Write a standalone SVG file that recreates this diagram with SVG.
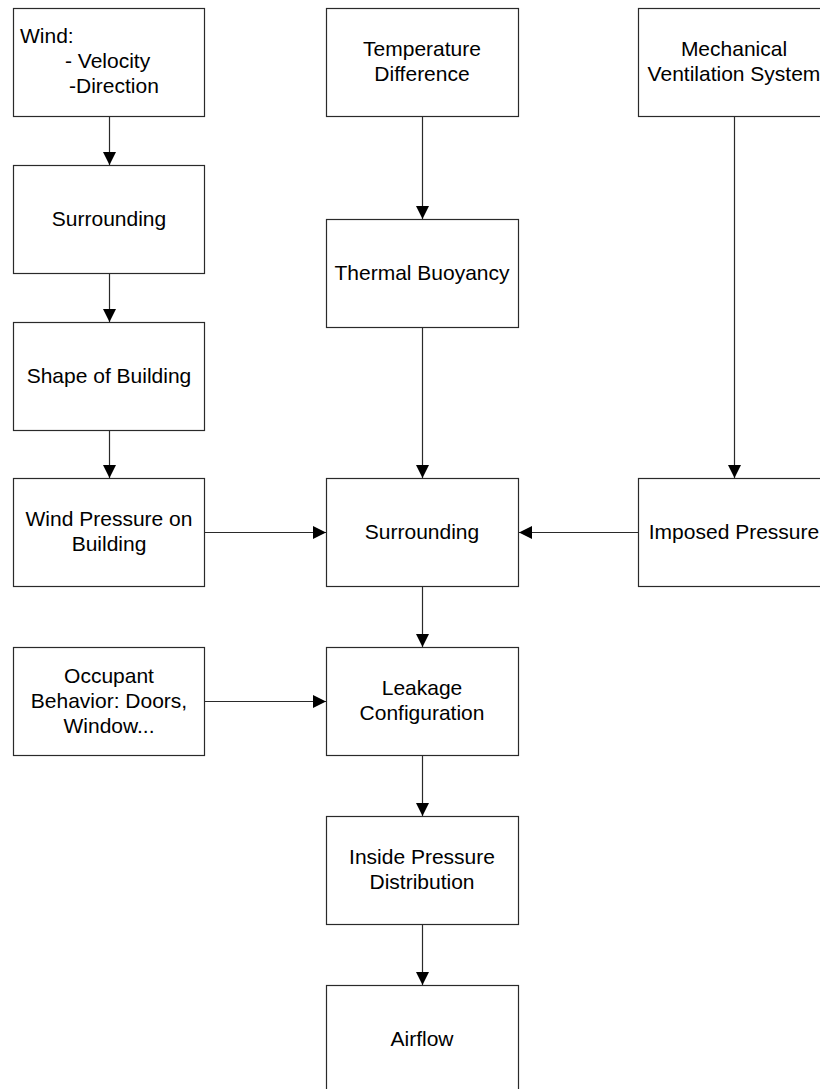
<svg xmlns="http://www.w3.org/2000/svg" width="820" height="1089" viewBox="0 0 820 1089">
  <style>
    .box { fill: #fff; stroke: #2a2a2a; stroke-width: 1.2; }
    .lbl { font-family: "Liberation Sans", Arial, sans-serif; font-size: 21px; fill: #000; text-anchor: middle; }
    .lft { text-anchor: start; }
    .edge { stroke: #2a2a2a; stroke-width: 1.2; fill: none; marker-end: url(#arrow); }
  </style>
  <defs>
    <marker id="arrow" markerUnits="userSpaceOnUse" markerWidth="14" markerHeight="14" refX="13" refY="6.5" orient="auto">
      <path d="M0,0 L13,6.5 L0,13 Z" fill="#000"/>
    </marker>
  </defs>
  <rect width="820" height="1089" fill="#fff"/>

  <!-- left column -->
  <g id="wind">
    <rect class="box" x="13.5" y="8.5" width="191" height="108"/>
    <text class="lbl lft" x="20" y="43">Wind:</text>
    <text class="lbl lft" x="65" y="68">- Velocity</text>
    <text class="lbl lft" x="69" y="93">-Direction</text>
  </g>
  <g id="surrounding-left">
    <rect class="box" x="13.5" y="165.5" width="191" height="108"/>
    <text class="lbl" x="109" y="226">Surrounding</text>
  </g>
  <g id="shape-of-building">
    <rect class="box" x="13.5" y="322.5" width="191" height="108"/>
    <text class="lbl" x="109" y="383">Shape of Building</text>
  </g>
  <g id="wind-pressure">
    <rect class="box" x="13.5" y="478.5" width="191" height="108"/>
    <text class="lbl" x="109" y="526">Wind Pressure on</text>
    <text class="lbl" x="109" y="551">Building</text>
  </g>
  <g id="occupant-behavior">
    <rect class="box" x="13.5" y="647.5" width="191" height="108"/>
    <text class="lbl" x="109" y="683">Occupant</text>
    <text class="lbl" x="109" y="708">Behavior: Doors,</text>
    <text class="lbl" x="109" y="733">Window...</text>
  </g>

  <!-- middle column -->
  <g id="temperature-difference">
    <rect class="box" x="326.5" y="8.5" width="192" height="108"/>
    <text class="lbl" x="422" y="56">Temperature</text>
    <text class="lbl" x="422" y="81">Difference</text>
  </g>
  <g id="thermal-buoyancy">
    <rect class="box" x="326.5" y="219.5" width="192" height="108"/>
    <text class="lbl" x="422" y="280">Thermal Buoyancy</text>
  </g>
  <g id="surrounding-center">
    <rect class="box" x="326.5" y="478.5" width="192" height="108"/>
    <text class="lbl" x="422" y="539">Surrounding</text>
  </g>
  <g id="leakage-configuration">
    <rect class="box" x="326.5" y="647.5" width="192" height="108"/>
    <text class="lbl" x="422" y="695">Leakage</text>
    <text class="lbl" x="422" y="720">Configuration</text>
  </g>
  <g id="inside-pressure">
    <rect class="box" x="326.5" y="816.5" width="192" height="108"/>
    <text class="lbl" x="422" y="864">Inside Pressure</text>
    <text class="lbl" x="422" y="889">Distribution</text>
  </g>
  <g id="airflow">
    <rect class="box" x="326.5" y="985.5" width="192" height="108"/>
    <text class="lbl" x="422" y="1046">Airflow</text>
  </g>

  <!-- right column -->
  <g id="mechanical-ventilation">
    <rect class="box" x="638.5" y="8.5" width="192" height="108"/>
    <text class="lbl" x="734" y="56">Mechanical</text>
    <text class="lbl" x="734" y="81">Ventilation System</text>
  </g>
  <g id="imposed-pressure">
    <rect class="box" x="638.5" y="478.5" width="192" height="108"/>
    <text class="lbl" x="734" y="539">Imposed Pressure</text>
  </g>

  <!-- connectors -->
  <g id="connectors">
    <line class="edge" x1="109.5" y1="117" x2="109.5" y2="165"/>
    <line class="edge" x1="109.5" y1="274" x2="109.5" y2="322"/>
    <line class="edge" x1="109.5" y1="431" x2="109.5" y2="478"/>
    <line class="edge" x1="205" y1="532.5" x2="326" y2="532.5"/>
    <line class="edge" x1="422.5" y1="117" x2="422.5" y2="219"/>
    <line class="edge" x1="422.5" y1="328" x2="422.5" y2="478"/>
    <line class="edge" x1="734.5" y1="117" x2="734.5" y2="478"/>
    <line class="edge" x1="638" y1="532.5" x2="519" y2="532.5"/>
    <line class="edge" x1="422.5" y1="587" x2="422.5" y2="647"/>
    <line class="edge" x1="205" y1="701.5" x2="326" y2="701.5"/>
    <line class="edge" x1="422.5" y1="756" x2="422.5" y2="816"/>
    <line class="edge" x1="422.5" y1="925" x2="422.5" y2="985"/>
  </g>
</svg>
